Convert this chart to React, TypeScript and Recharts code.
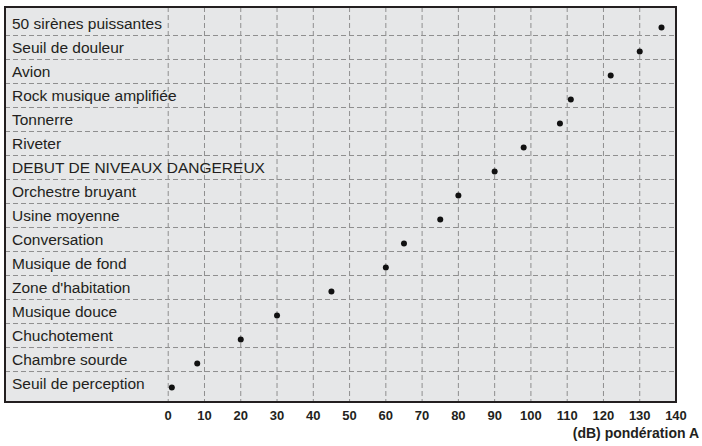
import React from "react";
import { ScatterChart, Scatter, XAxis, YAxis, CartesianGrid, ReferenceArea } from "recharts";

// sources de bruit, du plus fort au plus faible
const categories = [
  "50 sirènes puissantes",
  "Seuil de douleur",
  "Avion",
  "Rock musique amplifiée",
  "Tonnerre",
  "Riveter",
  "DEBUT DE NIVEAUX DANGEREUX",
  "Orchestre bruyant",
  "Usine moyenne",
  "Conversation",
  "Musique de fond",
  "Zone d'habitation",
  "Musique douce",
  "Chuchotement",
  "Chambre sourde",
  "Seuil de perception",
];
const decibels = [136, 130, 122, 111, 108, 98, 90, 80, 75, 65, 60, 45, 30, 20, 8, 1];
const dbTicks = [0, 10, 20, 30, 40, 50, 60, 70, 80, 90, 100, 110, 120, 130, 140];
const axisTitle = "(dB) pondération A";

const data = categories.map((name, i) => ({ name, db: decibels[i], row: i }));
const rowLines = categories.slice(1).map((_, i) => i + 0.5);
const rowTicks = categories.map((_, i) => i);

const X_DOMAIN: [number, number] = [-45, 140];
const Y_DOMAIN: [number, number] = [-0.6875, 15.77];

const FONT = '"Liberation Sans", Arial, sans-serif';
const INK = "#231f20";

const LabelTick = (props: any) => {
  const { x, y, payload } = props;
  return (
    <text x={x} y={y} dy="0.36em" textAnchor="start" fill={INK} fontSize={15.5} fontFamily={FONT}>
      {categories[payload.value]}
    </text>
  );
};

const Dot = (props: any) => <circle cx={props.cx} cy={props.cy + 4} r={3} fill="#111" />;

export default function App() {
  return (
    <div style={{ position: "relative", width: 702, height: 446, fontFamily: FONT }}>
      <style>{`body{margin:0}`}</style>
      <ScatterChart width={702} height={446} margin={{ top: 7, right: 26, left: 5, bottom: 0 }}>
        <XAxis
          type="number"
          dataKey="db"
          domain={X_DOMAIN}
          ticks={dbTicks}
          interval={0}
          allowDataOverflow
          axisLine={false}
          tickLine={false}
          tickSize={0}
          tickMargin={9}
          height={44}
          tick={{ fontSize: 13, fontWeight: 700, fill: INK, fontFamily: FONT }}
        />
        <YAxis
          yAxisId="lab"
          type="number"
          dataKey="row"
          domain={Y_DOMAIN}
          ticks={rowTicks}
          interval={0}
          reversed
          allowDataOverflow
          mirror
          width={200}
          axisLine={false}
          tickLine={false}
          tickSize={0}
          tickMargin={7}
          tick={<LabelTick />}
        />
        <YAxis
          yAxisId="grid"
          type="number"
          dataKey="row"
          domain={Y_DOMAIN}
          ticks={rowLines}
          reversed
          allowDataOverflow
          hide
          width={0}
        />
        <CartesianGrid yAxisId="grid" fill="#e6e7e8" fillOpacity={1} stroke="#8f8f8f" strokeDasharray="5 3" />
        <ReferenceArea
          yAxisId="lab"
          x1={X_DOMAIN[0]}
          x2={X_DOMAIN[1]}
          y1={Y_DOMAIN[0]}
          y2={Y_DOMAIN[1]}
          fill="none"
          stroke={INK}
          strokeWidth={2}
          ifOverflow="visible"
        />
        <Scatter yAxisId="lab" data={data} shape={<Dot />} isAnimationActive={false} />
      </ScatterChart>
      <div style={{ position: "absolute", right: 3, top: 425, fontSize: 14, fontWeight: 700, color: INK }}>
        {axisTitle}
      </div>
    </div>
  );
}
